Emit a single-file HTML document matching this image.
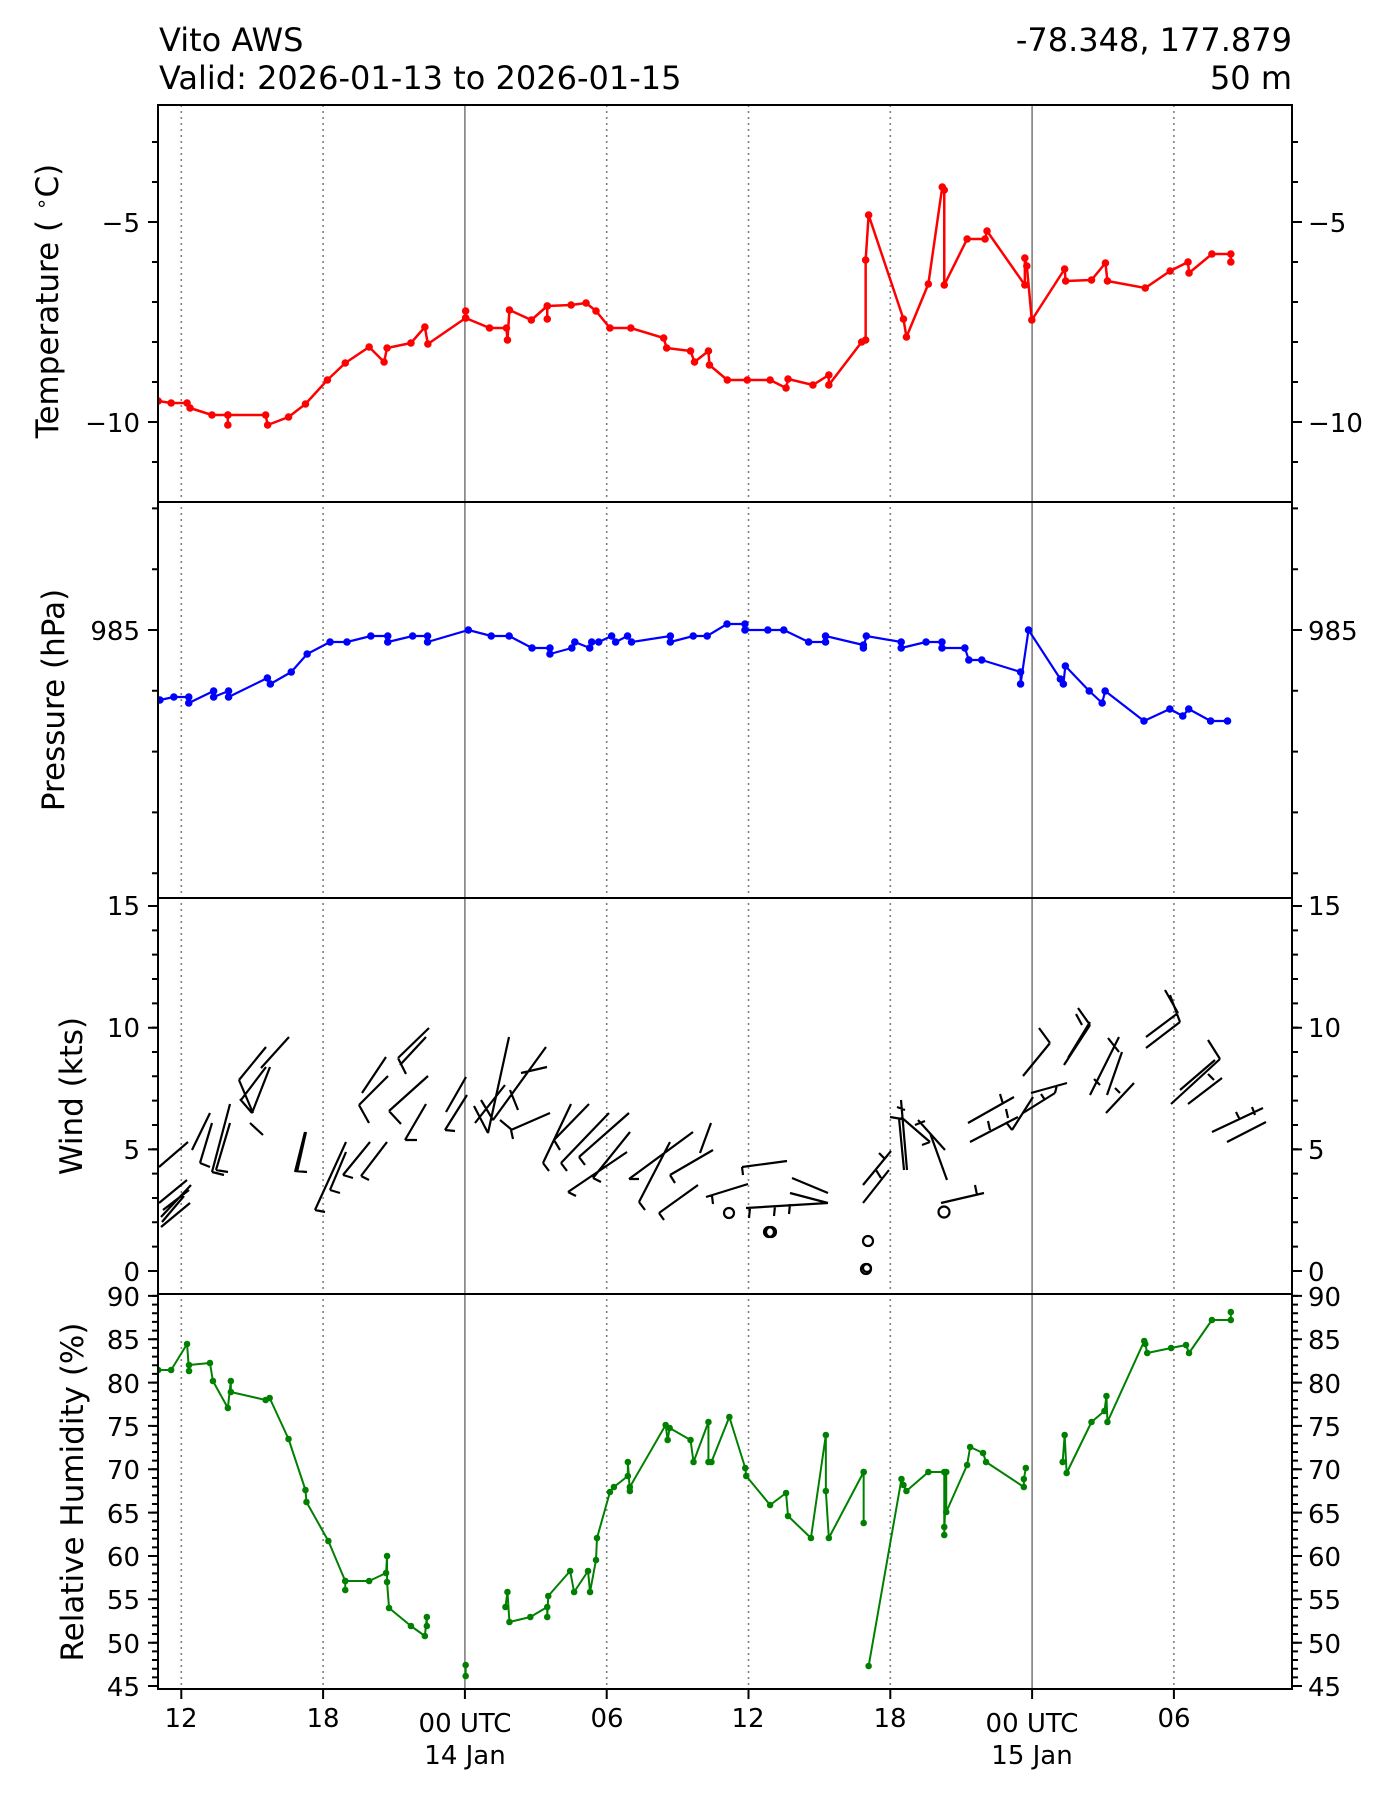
<!DOCTYPE html>
<html><head><meta charset="utf-8"><style>
html,body{margin:0;padding:0;background:#fff;}
svg{display:block;font-family:"DejaVu Sans","Liberation Sans",sans-serif;}
</style></head><body>
<svg width="1400" height="1800" viewBox="0 0 1400 1800" xmlns="http://www.w3.org/2000/svg">
<defs>
<marker id="mr" markerWidth="10" markerHeight="10" refX="5" refY="5" markerUnits="userSpaceOnUse"><circle cx="5" cy="5" r="3.8" fill="#ff0000"/></marker>
<marker id="mb" markerWidth="10" markerHeight="10" refX="5" refY="5" markerUnits="userSpaceOnUse"><circle cx="5" cy="5" r="3.8" fill="#0000ff"/></marker>
<marker id="mg" markerWidth="10" markerHeight="10" refX="5" refY="5" markerUnits="userSpaceOnUse"><circle cx="5" cy="5" r="3.3" fill="#008000"/></marker>
<clipPath id="cp"><rect x="158" y="105" width="1134" height="1584"/></clipPath>
</defs>
<rect width="1400" height="1800" fill="#fff"/>
<text x="159" y="51" font-size="32">Vito AWS</text>
<text x="159" y="89" font-size="32">Valid: 2026-01-13 to 2026-01-15</text>
<text x="1292" y="51" font-size="32" text-anchor="end">-78.348, 177.879</text>
<text x="1292" y="89" font-size="32" text-anchor="end">50 m</text>

<!-- grid -->
<g stroke="#808080" stroke-width="1.6">
<path stroke-dasharray="2,4" d="M181.3,105V1689 M323.1,105V1689 M606.7,105V1689 M748.5,105V1689 M890.3,105V1689 M1173.9,105V1689"/>
<path d="M464.9,105V1689 M1032.1,105V1689"/>
</g>

<g clip-path="url(#cp)">
<!-- Temperature -->
<g transform="matrix(0.995,0,0,1,0,0)">
<polyline fill="none" stroke="#ff0000" stroke-width="2.5" stroke-linejoin="round" marker-start="url(#mr)" marker-mid="url(#mr)" marker-end="url(#mr)" points="159,401 172,403 188,403 191,408 213,415 229,415 229,425 229,415 267,415 269,425 290,417 307,404 329,380 347,363 371,347 386,362 389,348 413,343 427,327 430,344 468,318 468,311 468,318 492,328 509,328 510,340 512,310 534,320 550,306 550,319 550,306 574,305 589,303 599,311 613,328 634,328 667,338 670,348 694,351 698,362 712,351 713,365 731,380 751,380 774,380 790,388 792,379 817,385 833,375 833,385 866,342 870,340 870,260 873,215 908,319 911,337 933,284 947,187 949,190 949,285 972,239 990,239 992,231 1030,285 1030,258 1032,266 1037,320 1070,269 1071,281 1097,280 1111,263 1113,281 1151,288 1176,271 1194,262 1195,273 1218,254 1237,254 1237,262"/>
</g>

<!-- Pressure -->
<g transform="matrix(0.995,0,0,1,1.7,0)">
<polyline fill="none" stroke="#0000ff" stroke-width="2.2" stroke-linejoin="round" marker-start="url(#mb)" marker-mid="url(#mb)" marker-end="url(#mb)" points="159,700 173,697 188,697 188,703 213,691 213,697 228,691 228,697 267,678 270,684 291,672 307,654 330,642 347,642 371,636 388,636 388,642 413,636 428,636 428,642 469,630 492,636 510,636 533,648 551,648 551,654 573,648 576,642 591,648 593,642 600,642 613,636 617,642 629,636 633,642 672,636 672,642 695,636 709,636 729,624 747,624 747,630 770,630 786,630 811,642 828,642 828,636 866,645 866,648 869,636 904,642 904,648 929,642 945,642 945,648 968,648 972,660 985,660 1024,672 1024,684 1032,630 1064,679 1067,684 1069,666 1093,691 1106,703 1109,691 1148,721 1174,709 1187,716 1193,709 1215,721 1232,721"/>
</g>

<!-- RH -->
<g transform="matrix(0.995,0,0,1,0,0)" fill="none" stroke="#008000" stroke-width="2" stroke-linejoin="round" marker-start="url(#mg)" marker-mid="url(#mg)" marker-end="url(#mg)">
<polyline points="159,1370 172,1370 188,1344 190,1371 190,1365 211,1363 214,1381 229,1408 232,1381 232,1392 267,1400 271,1398 290,1439 307,1490 308,1502 330,1541 347,1581 347,1590 347,1581 371,1581 388,1573 389,1556 389,1582 391,1608 413,1626 427,1636 429,1617 429,1626"/>
<polyline points="468,1665 468,1676"/>
<polyline points="508,1607 510,1592 512,1622 533,1617 550,1607 550,1617 551,1596 573,1571 577,1592 591,1571 593,1592 599,1560 600,1538 613,1492 617,1487 631,1476 631,1462 633,1491 633,1487 669,1425 671,1440 673,1428 694,1440 697,1462 712,1422 712,1462 715,1462 733,1417 749,1468 750,1476 774,1505 790,1493 792,1516 815,1538 830,1435 830,1491 833,1538 868,1472 868,1523 868,1472"/>
<polyline points="873,1666 906,1479 908,1485 911,1491 933,1472 949,1472 949,1527 949,1535 951,1472 951,1512 972,1465 975,1447 988,1453 991,1462 1029,1487 1029,1479 1031,1468"/>
<polyline points="1068,1462 1070,1435 1072,1473 1097,1422 1110,1411 1112,1396 1113,1422 1150,1341 1151,1344 1153,1353 1177,1348 1192,1345 1195,1353 1218,1320 1237,1320 1237,1312"/>
</g>
</g>

<!-- Wind barbs -->
<g stroke="#000" stroke-width="2.2" fill="none">
<path d="M159,1167 L188,1142 M161,1227 L190,1203 M161,1217 L191,1185 M159,1203 L187,1180 M163,1210 L189,1190 M162,1222 L184,1196
M200,1163 L212,1123 M192,1150 L210,1113 M212,1172 L230,1104 M216,1170 L230,1123 M200,1163 l10,4 M212,1172 l12,3 M216,1170 l12,2
M241,1100 L266,1067 M252,1113 L270,1067 M239,1080 L266,1047 M261,1068 L289,1037 M239,1080 L253,1113 M250,1123 L263,1135 M252,1113 l-12,-14
M295,1172 L305,1132 M297,1172 L306,1132 M295,1171 l12,1
M315,1210 L346,1142 M330,1190 L346,1152 M343,1175 L370,1142 M361,1176 L387,1142 M315,1210 l10,2 M330,1190 l10,3 M343,1175 l10,3 M361,1176 l8,4
M362,1093 L386,1057 M359,1105 L388,1076 M398,1058 L429,1028 M400,1065 L426,1037 M389,1111 L428,1076 M405,1140 L426,1104 M445,1130 L467,1095 M446,1112 L466,1077
M359,1105 l10,18 M398,1058 l8,16 M389,1111 l12,13 M405,1140 l12,0 M445,1130 l10,1
M488,1133 L509,1037 M475,1123 L505,1085 M493,1120 L546,1047 M521,1073 L547,1067 M511,1130 L550,1113 M488,1133 l-14,-27 M493,1120 l-12,-20 M511,1130 l2,9 M500,1120 l12,10 M510,1090 l8,20
M543,1163 L571,1104 M554,1140 L589,1104 M568,1192 L627,1152 M561,1163 L609,1113 M593,1178 L630,1132 M579,1157 L629,1113 M543,1163 l6,8 M554,1140 l6,10 M568,1192 l8,4 M561,1163 l6,8 M593,1178 l8,4 M579,1157 l6,8
M629,1179 L693,1132 M639,1202 L670,1142 M659,1213 L698,1185 M670,1175 L713,1150 M629,1179 l10,0 M639,1202 l6,8 M659,1213 l5,7 M670,1175 l5,8
M700,1153 L711,1123 M706,1197 L748,1184 M742,1167 L787,1161 M746,1208 L828,1203 M790,1193 L828,1203 M792,1178 L828,1193 M712,1196 l1,8 M742,1167 l1,8 M750,1208 l-1,10 M775,1206 l-1,10 M790,1204 l-1,10
M863,1185 L891,1151 M863,1203 L889,1170 M876,1170 l5,8 M884,1158 l-5,-5
M907,1170 L901,1100 M904,1170 L899,1118 M930,1142 L901,1117 M947,1180 L930,1133 M945,1150 L918,1120 M890,1117 l12,2 M905,1110 l-8,-3 M915,1125 l10,-4 M930,1142 l-8,3
M970,1142 L1018,1117 M968,1123 L1014,1097 M1012,1130 L1033,1097 M1023,1113 L1055,1093 M1031,1093 L1067,1083 M990,1130 l-2,-9 M1008,1118 l-2,-9 M1003,1104 l-3,-10 M1012,1130 l-6,-8 M1045,1100 l-4,-6 M1055,1093 l2,-8
M941,1203 L984,1193 M977,1195 l-2,-10
M1023,1076 L1050,1043 M1050,1043 L1039,1028 M1064,1065 L1090,1025 M1068,1058 L1090,1022 M1090,1025 L1078,1008 M1082,1025 L1076,1014
M1090,1095 L1119,1037 M1106,1113 L1134,1083 M1107,1095 L1122,1052 M1119,1052 L1108,1038 M1100,1085 l-6,-6 M1120,1093 l-5,-5
M1146,1037 L1178,1013 M1146,1048 L1180,1022 M1178,1013 L1165,990 M1180,1022 L1170,995
M1171,1104 L1220,1059 M1188,1104 L1222,1078 M1180,1090 L1215,1060 M1220,1059 L1208,1040 M1214,1080 l-6,-6
M1212,1132 L1263,1108 M1227,1142 L1266,1122 M1240,1120 l-4,-8 M1255,1115 l-3,-8"/>
<circle cx="729" cy="1213" r="5"/><circle cx="771" cy="1232" r="5"/><circle cx="769" cy="1232" r="5"/>
<circle cx="868" cy="1241" r="5"/><circle cx="866" cy="1269" r="5"/><circle cx="867" cy="1268" r="4"/>
<circle cx="944" cy="1212" r="5.5"/>
</g>

<!-- axes frames -->
<g fill="none" stroke="#000" stroke-width="2">
<rect x="158" y="105" width="1134" height="397"/>
<rect x="158" y="502" width="1134" height="396"/>
<rect x="158" y="898" width="1134" height="396"/>
<rect x="158" y="1294" width="1134" height="395"/>
</g>

<g stroke="#000" stroke-width="6" fill="none">
<path stroke-dasharray="2 38" d="M155,141V464 M1295,141V464"/>
<path stroke-dasharray="2 58.8" d="M155,507.4V875 M1295,507.4V875"/>
<path stroke-dasharray="2 22.33" d="M155,905V1273 M1295,905V1273"/>
<path stroke-dasharray="2 6.67" d="M155,1294.9V1688 M1295,1294.9V1688"/>
</g>
<g stroke="#000" stroke-width="2" fill="none">
<path d="M148,222H158 M148,422H158 M1292,222H1302 M1292,422H1302
M148,630H158 M1292,630H1302
M148,1271H158 M148,1149.4H158 M148,1027.7H158 M148,906H158 M1292,1271H1302 M1292,1149.4H1302 M1292,1027.7H1302 M1292,906H1302
M148,1686H158 M148,1642.7H158 M148,1599.3H158 M148,1556H158 M148,1512.6H158 M148,1469.3H158 M148,1425.9H158 M148,1382.6H158 M148,1339.2H158 M148,1295.9H158
M1292,1686H1302 M1292,1642.7H1302 M1292,1599.3H1302 M1292,1556H1302 M1292,1512.6H1302 M1292,1469.3H1302 M1292,1425.9H1302 M1292,1382.6H1302 M1292,1339.2H1302 M1292,1295.9H1302
M181.3,1689V1699 M323.1,1689V1699 M464.9,1689V1699 M606.7,1689V1699 M748.5,1689V1699 M890.3,1689V1699 M1032.1,1689V1699 M1173.9,1689V1699"/>
</g>

<g font-size="26" text-anchor="end">
<text x="140" y="232">−5</text><text x="140" y="432">−10</text>
<text x="140" y="640">985</text>
<text x="140" y="1281">0</text><text x="140" y="1159">5</text><text x="140" y="1037">10</text><text x="140" y="915">15</text>
<text x="140" y="1696">45</text><text x="140" y="1653">50</text><text x="140" y="1609">55</text><text x="140" y="1566">60</text><text x="140" y="1523">65</text><text x="140" y="1479">70</text><text x="140" y="1436">75</text><text x="140" y="1393">80</text><text x="140" y="1349">85</text><text x="140" y="1306">90</text>
</g>
<g font-size="26" text-anchor="start">
<text x="1308" y="232">−5</text><text x="1308" y="432">−10</text>
<text x="1308" y="640">985</text>
<text x="1308" y="1281">0</text><text x="1308" y="1159">5</text><text x="1308" y="1037">10</text><text x="1308" y="915">15</text>
<text x="1308" y="1696">45</text><text x="1308" y="1653">50</text><text x="1308" y="1609">55</text><text x="1308" y="1566">60</text><text x="1308" y="1523">65</text><text x="1308" y="1479">70</text><text x="1308" y="1436">75</text><text x="1308" y="1393">80</text><text x="1308" y="1349">85</text><text x="1308" y="1306">90</text>
</g>
<g font-size="26" text-anchor="middle">
<text x="181" y="1727">12</text><text x="323" y="1727">18</text>
<text x="465" y="1732">00 UTC</text><text x="465" y="1764">14 Jan</text>
<text x="607" y="1727">06</text><text x="748" y="1727">12</text><text x="890" y="1727">18</text>
<text x="1032" y="1732">00 UTC</text><text x="1032" y="1764">15 Jan</text>
<text x="1174" y="1727">06</text>
</g>
<g font-size="31" text-anchor="middle">
<text transform="translate(58,301) rotate(-90)">Temperature ( <tspan font-size="20" dy="-10">∘</tspan><tspan dy="10">C)</tspan></text>
<text transform="translate(64,700) rotate(-90)">Pressure (hPa)</text>
<text transform="translate(82,1096) rotate(-90)">Wind (kts)</text>
<text transform="translate(83,1492) rotate(-90)">Relative Humidity (%)</text>
</g>
</svg>
</body></html>
